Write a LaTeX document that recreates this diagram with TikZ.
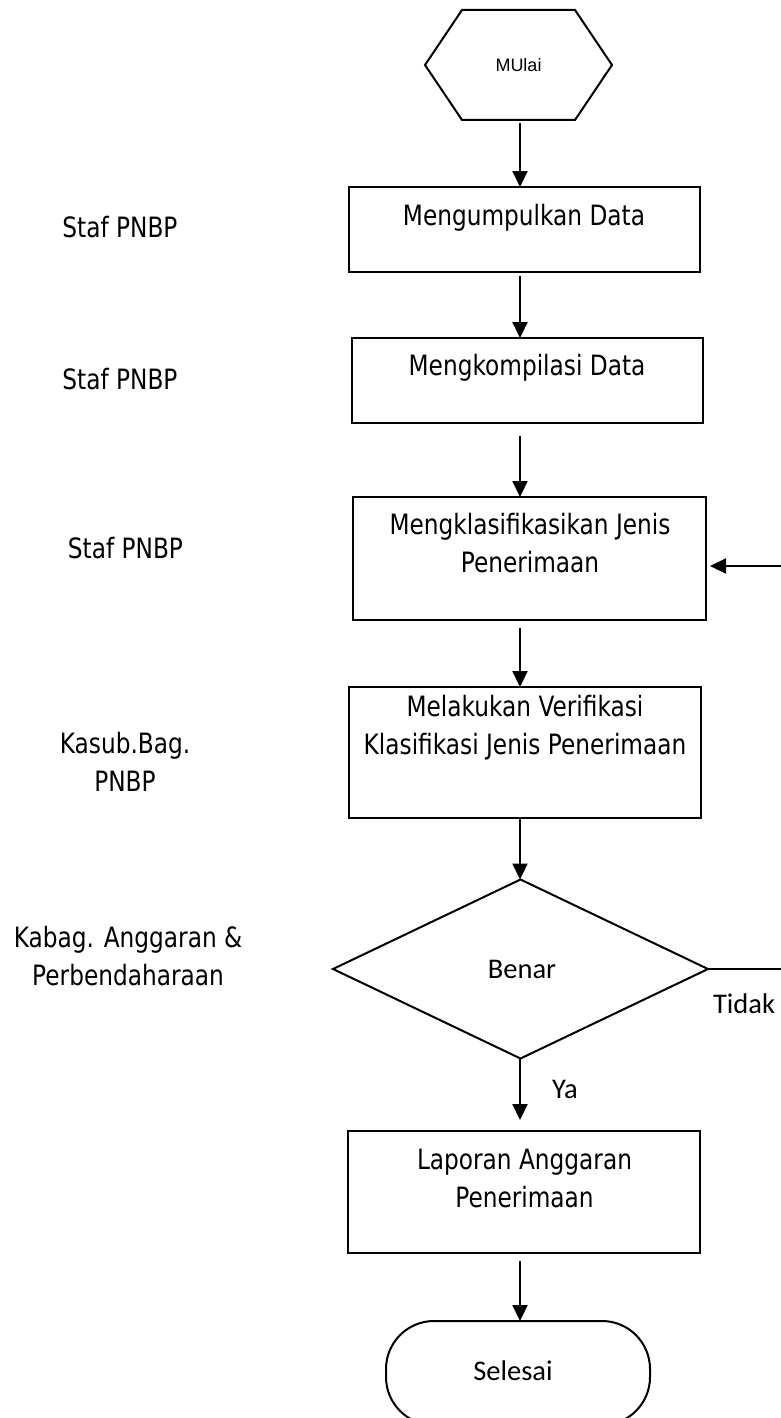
\documentclass[tikz,border=0pt]{standalone}
\usepackage{fontspec}
\setmainfont{DejaVu Sans}[FakeStretch=0.83]
\newfontfamily\calfont{Carlito}
\newfontfamily\arialfont{Liberation Sans}
\usetikzlibrary{arrows.meta,shapes.geometric,calc}

\begin{document}
\begin{tikzpicture}[x=1pt,y=-1pt,
  every node/.style={inner sep=0pt, outer sep=0pt},
  line/.style={line width=2pt},
  procbox/.style={draw, line width=2pt},
  txt/.style={font=\fontsize{28}{38}\selectfont, align=center, anchor=base},
  caltxt/.style={font=\calfont\fontsize{28.5}{34}\selectfont, anchor=base},
  flow/.style={line width=2.2pt, -{Triangle[length=16pt,width=15pt]}},
]
\useasboundingbox (0,0) rectangle (780,1418);
\coordinate (ax) at (520,0);

% start hexagon
\node[minimum width=187pt, minimum height=110pt, font=\arialfont\fontsize{18}{20}\selectfont] (start) at (518.5,65) {MUlai};
\draw[line] (start.west) -- ($(start.north west)+(37,0)$) -- ($(start.north east)+(-37,0)$)
  -- (start.east) -- ($(start.south east)+(-37,0)$) -- ($(start.south west)+(37,0)$) -- cycle;

% process boxes
\node[procbox, minimum width=351pt, minimum height=85pt] (b1) at (524.5,229.5) {};
\node[procbox, minimum width=351pt, minimum height=85pt] (b2) at (527.5,380.5) {};
\node[procbox, minimum width=353pt, minimum height=123pt] (b3) at (529.5,558.5) {};
\node[procbox, minimum width=352pt, minimum height=131pt] (b4) at (525,752.5) {};
\node[procbox, minimum width=352pt, minimum height=122pt] (b5) at (524,1192) {};

% box texts (multi-line nodes are anchored on their last baseline)
\node[txt] (t1) at (524,225) {Mengumpulkan Data};
\node[txt] (t2) at (527,375) {Mengkompilasi Data};
\node[txt] (t3) at (530,572) {Mengklasifikasikan Jenis\\Penerimaan};
\node[txt] (t4) at (525,754) {Melakukan Verifikasi\\Klasifikasi Jenis Penerimaan};
\node[txt] (t5) at (524.5,1207) {Laporan Anggaran\\Penerimaan};

% decision
\node[draw, diamond, line width=2pt, minimum width=375pt, minimum height=179pt] (dec) at (520.5,969) {};
\node[caltxt] (benar) at (522,978) {Benar};

% terminal
\node[draw, line width=2pt, rounded corners=48pt, minimum width=264pt, minimum height=104pt] (end) at (518,1373) {};
\node[caltxt] (selesai) at (513,1380) {Selesai};

% role labels
\node[txt] (r1) at (120,237) {Staf PNBP};
\node[txt] (r2) at (120,389) {Staf PNBP};
\node[txt] (r3) at (125.5,558) {Staf PNBP};
\node[txt] (r4) at (125,791) {Kasub.Bag.\\PNBP};
\node[txt] (r5) at (128,985) {Kabag. Anggaran \&\\Perbendaharaan};

% connectors
\draw[flow, shorten <=3pt] (start.south -| ax) -- (b1.north -| ax);
\draw[flow, shorten <=4pt] (b1.south -| ax) -- (b2.north -| ax);
\draw[flow, shorten <=13pt] (b2.south -| ax) -- (b3.north -| ax);
\draw[flow, shorten <=8pt] (b3.south -| ax) -- (b4.north -| ax);
\draw[flow] (b4.south -| ax) -- (dec.north -| ax);
\draw[flow, shorten >=11pt] (dec.south -| ax) -- (b5.north -| ax);
\draw[flow, shorten <=8pt] (b5.south -| ax) -- (end.north -| ax);

\coordinate (rt) at (783,969);
\coordinate (rb) at (783,566);
\draw[flow, shorten >=4pt] (dec.east) -- (rt) -- (rb) -- (rb -| b3.east);

\node[caltxt, anchor=base west] (tidak) at (713,1013) {Tidak};
\node[caltxt, anchor=base west] (ya) at (552,1098) {Ya};
\end{tikzpicture}
\end{document}
